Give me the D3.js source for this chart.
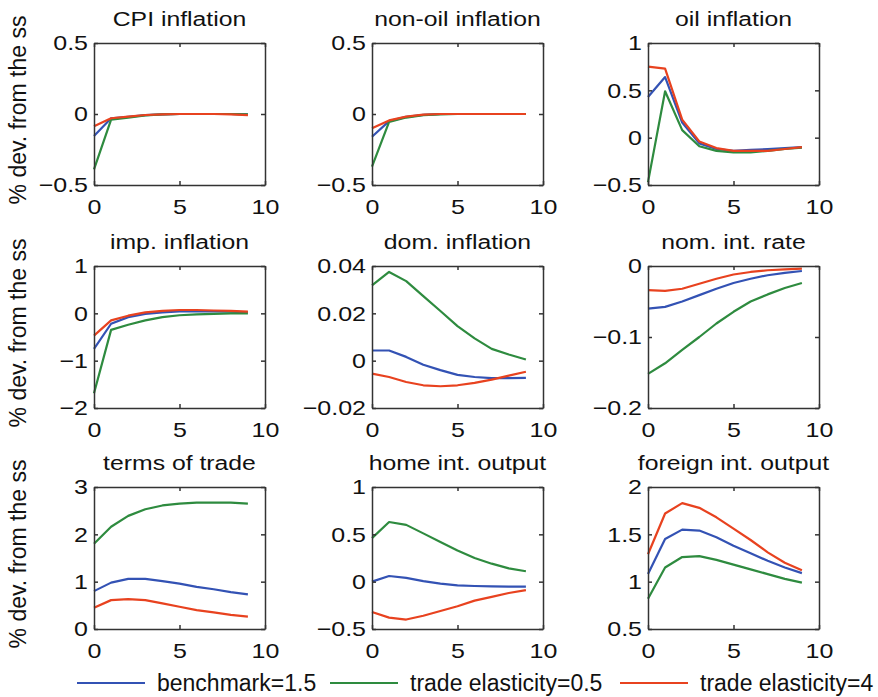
<!DOCTYPE html>
<html>
<head>
<meta charset="utf-8">
<script src="https://cdn.jsdelivr.net/npm/d3@7"></script>
<style>
  html, body { margin: 0; padding: 0; background: #fff; }
  svg { display: block; font-family: "Liberation Sans", Arial, sans-serif; }
  .axis path, .axis line { stroke: #333; stroke-width: 1.5; }
  .axis text {
    font-size: 21px; fill: #111;
    transform-box: fill-box; transform: scaleX(1.19);
  }
  .axis.x text { transform-origin: center; }
  .axis.y text { transform-origin: right center; }
  .panel-title {
    font-size: 21px; fill: #111;
    transform-box: fill-box; transform-origin: center; transform: scaleX(1.18);
  }
  .y-label { font-size: 23px; fill: #111; }
  .legend text { font-size: 23px; fill: #111; }
  .series { fill: none; stroke-width: 2.2; stroke-linejoin: round; }
</style>
</head>
<body>
<div id="chart"></div>
<script>
// periods after the shock
const periods = [0, 1, 2, 3, 4, 5, 6, 7, 8, 9];

const seriesNames = ["benchmark=1.5", "trade elasticity=0.5", "trade elasticity=4"];
const seriesColors = ["#3352b4", "#2e8b3f", "#e8421f"];

const panelTitles = [
  "CPI inflation", "non-oil inflation", "oil inflation",
  "imp. inflation", "dom. inflation", "nom. int. rate",
  "terms of trade", "home int. output", "foreign int. output"
];

// [benchmark, elasticity 0.5, elasticity 4]
const cpiInflation = [
  [-0.155, -0.03, -0.02, -0.008, -0.003, 0, 0, 0, 0, -0.002],
  [-0.39, -0.04, -0.025, -0.01, -0.003, 0, 0, 0, 0, -0.003],
  [-0.087, -0.03, -0.018, -0.007, -0.002, 0, 0, 0, -0.002, -0.008]
];
const nonOilInflation = [
  [-0.16, -0.05, -0.02, -0.006, 0, 0, 0, 0, 0, 0],
  [-0.37, -0.055, -0.025, -0.008, -0.002, 0, 0, 0, 0, 0],
  [-0.1, -0.045, -0.018, -0.005, 0, 0, 0, 0, 0, 0]
];
const oilInflation = [
  [0.43, 0.64, 0.16, -0.06, -0.12, -0.14, -0.13, -0.12, -0.11, -0.1],
  [-0.47, 0.49, 0.08, -0.09, -0.14, -0.155, -0.155, -0.14, -0.12, -0.105],
  [0.75, 0.73, 0.19, -0.04, -0.11, -0.14, -0.14, -0.14, -0.12, -0.1]
];
const impInflation = [
  [-0.75, -0.22, -0.08, -0.01, 0.02, 0.04, 0.04, 0.04, 0.035, 0.02],
  [-1.69, -0.35, -0.24, -0.15, -0.08, -0.04, -0.02, -0.01, 0, 0],
  [-0.47, -0.15, -0.05, 0.02, 0.05, 0.07, 0.07, 0.06, 0.05, 0.035]
];
const domInflation = [
  [0.0043, 0.0043, 0.0016, -0.0017, -0.004, -0.006, -0.0069, -0.0074, -0.0074, -0.0073],
  [0.0318, 0.0375, 0.0336, 0.0273, 0.021, 0.0146, 0.0094, 0.005, 0.0026, 0.0005],
  [-0.0055, -0.0069, -0.009, -0.0104, -0.0108, -0.0104, -0.0094, -0.008, -0.0063, -0.0047]
];
const nomIntRate = [
  [-0.06, -0.0575, -0.05, -0.041, -0.032, -0.024, -0.018, -0.013, -0.0098, -0.007],
  [-0.152, -0.137, -0.118, -0.1, -0.081, -0.0645, -0.05, -0.04, -0.031, -0.024],
  [-0.034, -0.035, -0.032, -0.025, -0.018, -0.012, -0.0084, -0.006, -0.0047, -0.0037]
];
const termsOfTrade = [
  [0.8, 0.98, 1.06, 1.06, 1.01, 0.96, 0.89, 0.84, 0.78, 0.73],
  [1.8, 2.16, 2.39, 2.53, 2.61, 2.65, 2.67, 2.67, 2.67, 2.65],
  [0.45, 0.61, 0.63, 0.61, 0.54, 0.47, 0.4, 0.35, 0.3, 0.26]
];
const homeIntOutput = [
  [0, 0.06, 0.04, 0.006, -0.02, -0.04, -0.046, -0.05, -0.053, -0.053],
  [0.46, 0.63, 0.6, 0.51, 0.42, 0.33, 0.25, 0.19, 0.14, 0.11],
  [-0.32, -0.38, -0.4, -0.36, -0.31, -0.26, -0.2, -0.16, -0.12, -0.09]
];
const foreignIntOutput = [
  [1.08, 1.45, 1.55, 1.54, 1.47, 1.38, 1.3, 1.22, 1.15, 1.09],
  [0.82, 1.15, 1.26, 1.27, 1.23, 1.18, 1.13, 1.08, 1.03, 0.99],
  [1.29, 1.72, 1.83, 1.78, 1.68, 1.56, 1.44, 1.31, 1.2, 1.12]
];
const panelValues = [
  cpiInflation, nonOilInflation, oilInflation,
  impInflation, domInflation, nomIntRate,
  termsOfTrade, homeIntOutput, foreignIntOutput
];

// y axis ranges and tick labels
const yDomains = [
  [-0.5, 0.5], [-0.5, 0.5], [-0.5, 1],
  [-2, 1], [-0.02, 0.04], [-0.2, 0],
  [0, 3], [-0.5, 1], [0.5, 2]
];
const yTicks = [
  [-0.5, 0, 0.5], [-0.5, 0, 0.5], [-0.5, 0, 0.5, 1],
  [-2, -1, 0, 1], [-0.02, 0, 0.02, 0.04], [-0.2, -0.1, 0],
  [0, 1, 2, 3], [-0.5, 0, 0.5, 1], [0.5, 1, 1.5, 2]
];
const xTicks = [0, 5, 10];
const yLabel = "% dev. from the ss";

function renderGrid() {
  const width = 878, height = 697;
  const colLeft = [94, 372, 648];
  const rowTop = [43, 266, 487];
  const pw = 171, ph = 142;

  const svg = d3.select("#chart").append("svg")
    .attr("width", width)
    .attr("height", height);

  const fmt = v => (v < 0 ? "\u2212" : "") + String(Math.abs(v));

  panelTitles.forEach((title, i) => {
    const col = i % 3, row = Math.floor(i / 3);
    const g = svg.append("g")
      .attr("transform", `translate(${colLeft[col]},${rowTop[row]})`);

    const x = d3.scaleLinear().domain([0, 10]).range([0, pw]);
    const y = d3.scaleLinear().domain(yDomains[i]).range([ph, 0]);

    // lines first, box on top like matlab
    const line = d3.line().x((d, k) => x(periods[k])).y(d => y(d));
    g.selectAll(".series")
      .data(panelValues[i])
      .enter().append("path")
      .attr("class", "series")
      .attr("stroke", (d, k) => seriesColors[k])
      .attr("d", line);

    g.append("g").attr("class", "axis x")
      .attr("transform", `translate(0,${ph})`)
      .call(d3.axisBottom(x).tickValues(xTicks).tickFormat(fmt)
        .tickSizeInner(-4).tickSizeOuter(0).tickPadding(14));
    g.append("g").attr("class", "axis y")
      .call(d3.axisLeft(y).tickValues(yTicks[i]).tickFormat(fmt)
        .tickSizeInner(-4).tickSizeOuter(0).tickPadding(6));
    g.append("g").attr("class", "axis")
      .call(d3.axisTop(x).tickValues(xTicks).tickFormat("")
        .tickSizeInner(-4).tickSizeOuter(0));
    g.append("g").attr("class", "axis")
      .attr("transform", `translate(${pw},0)`)
      .call(d3.axisRight(y).tickValues(yTicks[i]).tickFormat("")
        .tickSizeInner(-4).tickSizeOuter(0));
    g.selectAll(".axis .domain").attr("fill", "none");

    g.append("text")
      .attr("class", "panel-title")
      .attr("x", pw / 2)
      .attr("y", -17)
      .attr("text-anchor", "middle")
      .text(title);

    if (col === 0) {
      g.append("text")
        .attr("class", "y-label")
        .attr("transform", `translate(${-94 + 26},${ph / 2 - 4}) rotate(-90)`)
        .attr("text-anchor", "middle")
        .text(yLabel);
    }
  });

  // legend along the bottom
  const legendX = [77, 330, 620];
  const legend = svg.append("g").attr("class", "legend");
  seriesNames.forEach((name, k) => {
    legend.append("line")
      .attr("x1", legendX[k]).attr("x2", legendX[k] + 68)
      .attr("y1", 683).attr("y2", 683)
      .attr("stroke", seriesColors[k])
      .attr("stroke-width", 2);
    legend.append("text")
      .attr("x", legendX[k] + 80)
      .attr("y", 691)
      .text(name);
  });
}

renderGrid();
</script>
</body>
</html>
